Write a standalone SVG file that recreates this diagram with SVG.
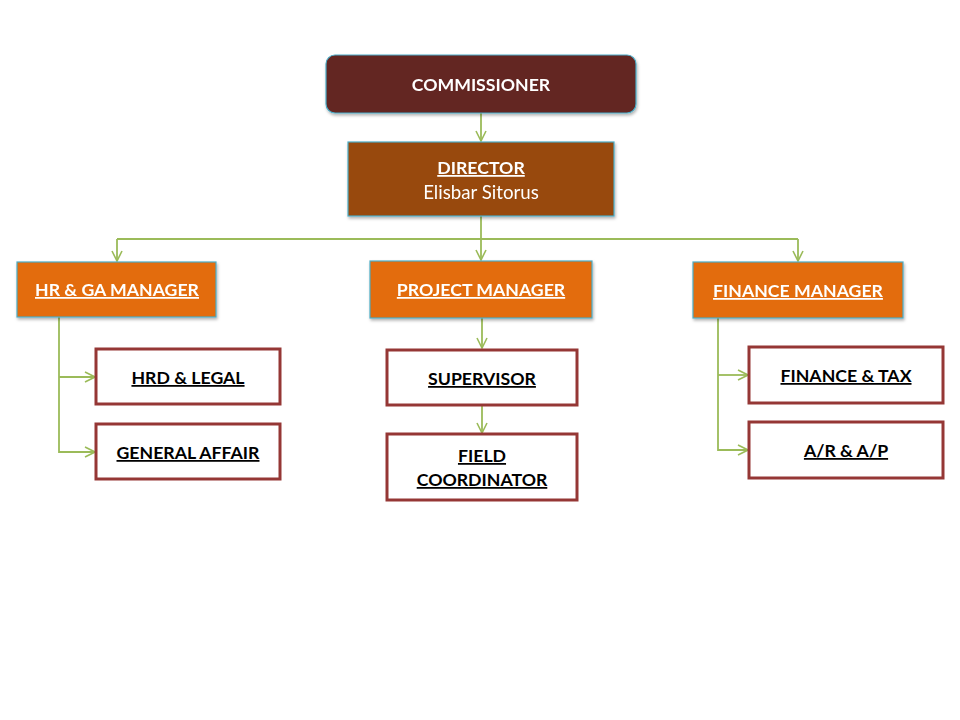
<svg xmlns="http://www.w3.org/2000/svg" width="960" height="720" viewBox="0 0 960 720">
<defs>
<filter id="sh" x="-10%" y="-10%" width="120%" height="130%">
<feDropShadow dx="1" dy="2" stdDeviation="1.5" flood-color="#000" flood-opacity="0.3"/>
</filter>
<marker id="ah" viewBox="0 0 12 12" refX="11" refY="6" markerWidth="12" markerHeight="12" markerUnits="userSpaceOnUse" orient="auto">
<path d="M1,1 L11,6 L1,11" fill="none" stroke="#9bbb59" stroke-width="1.6"/>
</marker>
<style>
.t{font-family:Lato,"Liberation Sans",sans-serif;font-weight:bold;text-anchor:middle;font-size:17.7px}
.w{fill:#ffffff}
.k{fill:#000000}
.u{text-decoration:underline}
.mgr{fill:#e36c09;stroke:#4bacc6;stroke-width:1.2}
.sub{fill:#ffffff;stroke:#953735;stroke-width:3}
.c{fill:none;stroke:#9bbb59;stroke-width:1.8}
</style>
</defs>
<rect width="960" height="720" fill="#ffffff"/>
<g id="connectors">
<path class="c" d="M481,113 V141" marker-end="url(#ah)"/>
<path class="c" d="M481,216 V239"/>
<path class="c" d="M117,239 H798"/>
<path class="c" d="M117,239 V261" marker-end="url(#ah)"/>
<path class="c" d="M481,239 V260" marker-end="url(#ah)"/>
<path class="c" d="M798,239 V261" marker-end="url(#ah)"/>
<path class="c" d="M59,309 V452 H95" marker-end="url(#ah)"/>
<path class="c" d="M59,377 H95" marker-end="url(#ah)"/>
<path class="c" d="M482,318 V348" marker-end="url(#ah)"/>
<path class="c" d="M482,405 V433" marker-end="url(#ah)"/>
<path class="c" d="M718,318 V450 H748" marker-end="url(#ah)"/>
<path class="c" d="M718,375 H748" marker-end="url(#ah)"/>
</g>
<g id="commissioner" filter="url(#sh)">
<rect x="326" y="55" width="310" height="58" rx="9" fill="#632523" stroke="#4bacc6" stroke-width="1.2"/>
<text class="t w" x="481" y="91">COMMISSIONER</text>
</g>
<g id="director" filter="url(#sh)">
<rect x="348" y="142" width="266" height="74" fill="#984807" stroke="#4bacc6" stroke-width="1.2"/>
<text class="t w u" x="481" y="174">DIRECTOR</text>
<text x="481" y="199" font-family="Lato,'Liberation Sans',sans-serif" font-size="18.7" fill="#ffffff" text-anchor="middle">Elisbar Sitorus</text>
</g>
<g id="hr-ga-manager" filter="url(#sh)">
<rect x="17" y="262" width="199" height="55" class="mgr"/>
<text class="t w u" x="117" y="296">HR &amp; GA MANAGER</text>
</g>
<g id="project-manager" filter="url(#sh)">
<rect x="370" y="261" width="222" height="57" class="mgr"/>
<text class="t w u" x="481" y="296">PROJECT MANAGER</text>
</g>
<g id="finance-manager" filter="url(#sh)">
<rect x="693" y="262" width="210" height="56" class="mgr"/>
<text class="t w u" x="798" y="297">FINANCE MANAGER</text>
</g>
<g id="hrd-legal">
<rect x="96" y="349" width="184" height="55" class="sub"/>
<text class="t k u" x="188" y="384">HRD &amp; LEGAL</text>
</g>
<g id="general-affair">
<rect x="96" y="424" width="184" height="55" class="sub"/>
<text class="t k u" x="188" y="459">GENERAL AFFAIR</text>
</g>
<g id="supervisor">
<rect x="387" y="350" width="190" height="55" class="sub"/>
<text class="t k u" x="482" y="385">SUPERVISOR</text>
</g>
<g id="field-coordinator">
<rect x="387" y="434" width="190" height="66" class="sub"/>
<text class="t k u" x="482" y="462">FIELD</text>
<text class="t k u" x="482" y="486">COORDINATOR</text>
</g>
<g id="finance-tax">
<rect x="749" y="347" width="194" height="56" class="sub"/>
<text class="t k u" x="846" y="382">FINANCE &amp; TAX</text>
</g>
<g id="ar-ap">
<rect x="749" y="422" width="194" height="56" class="sub"/>
<text class="t k u" x="846" y="457">A/R &amp; A/P</text>
</g>
</svg>
